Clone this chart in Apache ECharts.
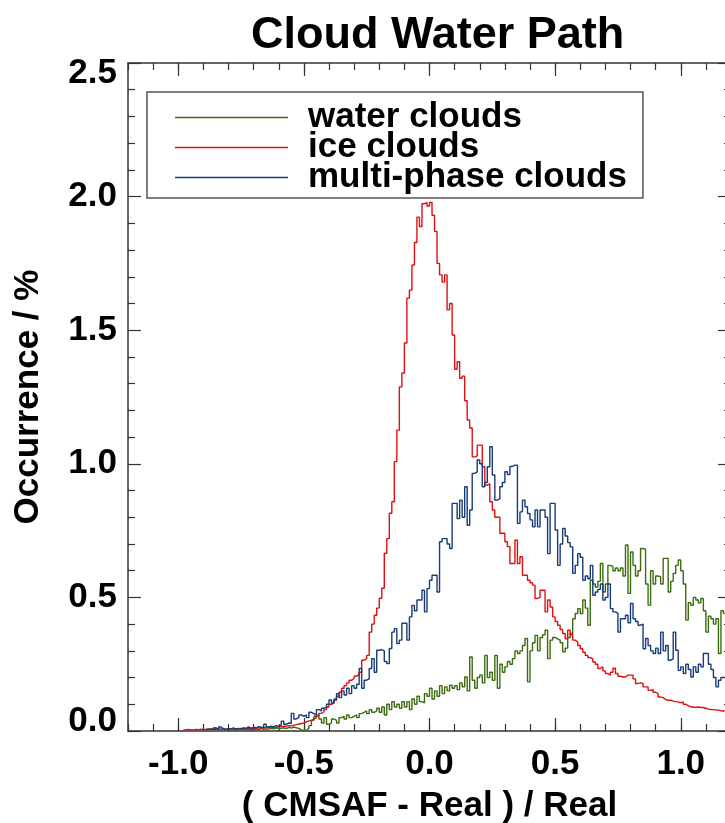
<!DOCTYPE html>
<html>
<head>
<meta charset="utf-8">
<script src="https://cdn.jsdelivr.net/npm/echarts@6/dist/echarts.min.js"></script>
<style>
  html, body { margin: 0; padding: 0; background: #fff; }
  #chart { width: 725px; height: 823px; }
</style>
</head>
<body>
<div id="chart"></div>
<script>
// histogram bins: 0.01 wide, first bin starts at -1.00
const binStart = -1.0
const binWidth = 0.01

// occurrence in % per bin (null = no data in that bin)
const waterClouds = [
  null, null, null, null, null, null, null, null, null, null,
  null, 0.005, 0.008, 0.004, 0.012, 0.006, 0.005, 0.009, 0.004, 0.007,
  0.005, 0.006, 0.004, 0.008, 0.005, 0.007, 0.004, 0.006, 0.005, 0.008,
  0.006, 0.005, 0.009, 0.006, 0.008, 0.007, 0.010, 0.008, 0.012, 0.009,
  0.010, 0.012, 0.009, 0.014, 0.011, 0.015, 0.012, 0.010, 0.004, 0.002,
  0.003, 0.010, 0.020, 0.040, 0.055, 0.060, 0.045, 0.030, 0.050, 0.025,
  0.030, 0.045, 0.040, 0.030, 0.050, 0.055, 0.045, 0.060, 0.050, 0.055,
  0.060, 0.050, 0.065, 0.070, 0.075, 0.065, 0.080, 0.070, 0.075, 0.085,
  0.070, 0.090, 0.060, 0.100, 0.080, 0.110, 0.090, 0.100, 0.085, 0.110,
  0.090, 0.110, 0.080, 0.120, 0.100, 0.130, 0.110, 0.105, 0.140, 0.130,
  0.160, 0.120, 0.150, 0.130, 0.170, 0.140, 0.165, 0.150, 0.171, 0.160,
  0.170, 0.155, 0.180, 0.165, 0.202, 0.150, 0.277, 0.190, 0.160, 0.200,
  0.210, 0.180, 0.283, 0.200, 0.220, 0.190, 0.283, 0.160, 0.250, 0.220,
  0.240, 0.260, 0.250, 0.271, 0.300, 0.290, 0.300, 0.320, 0.346, 0.184,
  0.300, 0.330, 0.358, 0.300, 0.350, 0.360, 0.377, 0.271, 0.340, 0.350,
  0.345, 0.340, 0.330, 0.296, 0.310, 0.350, 0.365, 0.420, 0.440, 0.458,
  0.440, 0.490, 0.460, 0.396, 0.564, 0.550, 0.539, 0.560, 0.627, 0.520,
  0.550, 0.620, 0.615, 0.600, 0.610, 0.600, 0.610, 0.580, 0.696, 0.515,
  0.670, 0.620, 0.580, 0.600, 0.683, 0.680, 0.550, 0.471, 0.600, 0.550,
  0.580, 0.577, 0.550, 0.646, 0.646, 0.520, 0.560, 0.590, 0.620, 0.640,
  0.600, 0.550, 0.415, 0.480, 0.470, 0.500, 0.490, 0.480, 0.496, 0.450,
  0.370, 0.430, 0.420, 0.400, 0.420, 0.290, 0.450, 0.440
]

const iceClouds = [
  null, null, 0.004, 0.006, 0.005, 0.004, 0.006, 0.005, 0.007, 0.006,
  0.006, 0.008, 0.005, 0.007, 0.006, 0.008, 0.007, 0.009, 0.006, 0.008,
  0.008, 0.006, 0.009, 0.007, 0.010, 0.008, 0.009, 0.011, 0.009, 0.012,
  0.010, 0.012, 0.011, 0.013, 0.012, 0.014, 0.013, 0.015, 0.014, 0.016,
  0.016, 0.018, 0.017, 0.020, 0.019, 0.022, 0.024, 0.026, 0.028, 0.030,
  0.034, 0.038, 0.040, 0.045, 0.050, 0.058, 0.066, 0.072, 0.080, 0.090,
  0.100, 0.105, 0.115, 0.130, 0.145, 0.160, 0.170, 0.180, 0.190, 0.197,
  0.205, 0.212, 0.220, 0.265, 0.272, 0.283, 0.370, 0.400, 0.433, 0.460,
  0.497, 0.534, 0.665, 0.720, 0.815, 0.858, 1.008, 1.126, 1.288, 1.340,
  1.452, 1.620, 1.650, 1.744, 1.828, 1.923, 1.888, 1.973, 1.978, 1.965,
  1.978, 1.930, 1.870, 1.750, 1.707, 1.680, 1.707, 1.576, 1.600, 1.482,
  1.354, 1.382, 1.320, 1.328, 1.236, 1.164, 1.134, 1.026, 1.030, 1.070,
  1.070, 0.989, 0.920, 0.925, 0.858, 0.827, 0.800, 0.800, 0.740, 0.740,
  0.708, 0.690, 0.627, 0.627, 0.714, 0.627, 0.652, 0.583, 0.583, 0.564,
  0.555, 0.546, 0.496, 0.500, 0.527, 0.527, 0.446, 0.490, 0.464, 0.427,
  0.410, 0.396, 0.380, 0.365, 0.345, 0.377, 0.360, 0.340, 0.333, 0.320,
  0.308, 0.295, 0.283, 0.275, 0.270, 0.258, 0.250, 0.234, 0.240, 0.225,
  0.215, 0.209, 0.220, 0.235, 0.215, 0.205, 0.202, 0.202, 0.209, 0.209,
  0.209, 0.195, 0.178, 0.180, 0.178, 0.165, 0.165, 0.152, 0.155, 0.145,
  0.140, 0.127, 0.125, 0.118, 0.115, 0.115, 0.112, 0.110, 0.109, 0.105,
  0.109, 0.100, 0.095, 0.090, 0.090, 0.088, 0.090, 0.088, 0.088, 0.085,
  0.082, 0.080, 0.080, 0.078, 0.078, 0.076, 0.075, 0.075
]

const multiPhaseClouds = [
  null, null, null, null, null, null, null, null, null, null,
  null, 0.006, 0.008, 0.005, 0.010, 0.007, 0.015, 0.008, 0.006, 0.010,
  0.008, 0.012, 0.007, 0.010, 0.009, 0.012, 0.010, 0.015, 0.011, 0.013,
  0.012, 0.016, 0.014, 0.012, 0.025, 0.015, 0.018, 0.016, 0.020, 0.018,
  0.022, 0.037, 0.025, 0.030, 0.028, 0.066, 0.045, 0.050, 0.060, 0.055,
  0.060, 0.050, 0.070, 0.065, 0.060, 0.080, 0.075, 0.085, 0.090, 0.100,
  0.116, 0.105, 0.120, 0.140, 0.125, 0.150, 0.135, 0.160, 0.140, 0.170,
  0.160, 0.175, 0.234, 0.160, 0.190, 0.195, 0.234, 0.271, 0.220, 0.302,
  0.305, 0.300, 0.260, 0.252, 0.309, 0.370, 0.383, 0.327, 0.340, 0.403,
  0.403, 0.340, 0.427, 0.470, 0.450, 0.490, 0.490, 0.527, 0.446, 0.533,
  0.564, 0.583, 0.583, 0.520, 0.708, 0.720, 0.720, 0.700, 0.683, 0.852,
  0.852, 0.795, 0.864, 0.800, 0.914, 0.770, 0.827, 0.964, 0.970, 1.014,
  1.000, 0.914, 0.930, 0.989, 1.064, 0.958, 0.864, 0.870, 0.914, 0.930,
  0.970, 0.960, 0.990, 0.995, 0.995, 0.777, 0.820, 0.864, 0.839, 0.814,
  0.790, 0.764, 0.827, 0.764, 0.827, 0.827, 0.800, 0.664, 0.852, 0.852,
  0.752, 0.620, 0.700, 0.758, 0.730, 0.705, 0.689, 0.590, 0.620, 0.664,
  0.650, 0.564, 0.580, 0.570, 0.620, 0.508, 0.520, 0.530, 0.550, 0.490,
  0.500, 0.550, 0.458, 0.446, 0.440, 0.370, 0.420, 0.420, 0.433, 0.405,
  0.477, 0.420, 0.410, 0.396, 0.400, 0.308, 0.346, 0.320, 0.300, 0.290,
  0.310, 0.290, 0.370, 0.300, 0.320, 0.265, 0.270, 0.370, 0.302, 0.227,
  0.240, 0.215, 0.250, 0.230, 0.202, 0.240, 0.220, 0.250, 0.240, 0.290,
  0.290, 0.250, 0.230, 0.200, 0.165, 0.190, 0.200, 0.200
]

const seriesNames = ['water clouds', 'ice clouds', 'multi-phase clouds']
const seriesColors = ['#3c6c10', '#e01010', '#173c7a']
const xMajorTicks = [-1.0, -0.5, 0.0, 0.5, 1.0]

const font = 'Liberation Sans, Arial, Helvetica, sans-serif'
const axisColor = '#333'
const textBold = { color: '#000', fontSize: 35, fontWeight: 'bold', fontFamily: font }

// bin centres -> [x, y] pairs
const toPairs = vals => vals.map((v, i) => [+(binStart + (i + 0.5) * binWidth).toFixed(3), v])

const lineStyle = { color: axisColor, width: 1.5 }
const tickStyle = { color: axisColor, width: 1.2 }

const xBase = { type: 'value', min: -1.2, max: 1.2, gridIndex: 0, splitLine: { show: false } }
const yBase = { type: 'value', min: 0, max: 2.5, interval: 0.5, gridIndex: 0, splitLine: { show: false } }

const chart = echarts.init(document.getElementById('chart'))

const option = {
  animation: false,
  backgroundColor: '#fff',
  title: {
    text: 'Cloud Water Path',
    left: 246,
    top: 8,
    textStyle: { color: '#000', fontSize: 45, fontWeight: 'bold', fontFamily: font }
  },
  legend: {
    orient: 'vertical',
    left: 147,
    top: 92,
    padding: [8, 16, 3, 28],
    itemGap: -5,
    itemWidth: 113,
    itemHeight: 1.5,
    icon: 'rect',
    selectedMode: false,
    borderColor: '#555',
    borderWidth: 1.5,
    backgroundColor: '#fff',
    textStyle: { ...textBold, lineHeight: 30, padding: [0, 0, 0, 15] },
    data: seriesNames
  },
  grid: {
    left: 128,
    right: -6,
    top: 63,
    bottom: 92,
    containLabel: false,
    outerBoundsMode: 'none'
  },
  xAxis: [
    {
      ...xBase,
      position: 'bottom',
      interval: 0.1,
      axisLine: { show: true, onZero: false, lineStyle },
      axisTick: { show: true, inside: true, length: 7, lineStyle: tickStyle },
      axisLabel: { show: false }
    },
    {
      ...xBase,
      position: 'bottom',
      axisLine: { show: false, onZero: false },
      axisTick: { show: true, inside: true, length: 13, customValues: xMajorTicks, lineStyle: tickStyle },
      axisLabel: { ...textBold, customValues: xMajorTicks, margin: 16, formatter: v => v.toFixed(1) },
      name: '( CMSAF - Real ) / Real',
      nameLocation: 'middle',
      nameGap: 58,
      nameTextStyle: textBold
    },
    {
      ...xBase,
      position: 'top',
      interval: 0.1,
      axisLine: { show: true, onZero: false, lineStyle },
      axisTick: { show: true, inside: true, length: 7, lineStyle: tickStyle },
      axisLabel: { show: false }
    },
    {
      ...xBase,
      position: 'top',
      axisLine: { show: false, onZero: false },
      axisTick: { show: true, inside: true, length: 13, customValues: xMajorTicks, lineStyle: tickStyle },
      axisLabel: { show: false }
    }
  ],
  yAxis: [
    {
      ...yBase,
      position: 'left',
      axisLine: { show: true, onZero: false, lineStyle },
      axisTick: { show: true, inside: true, length: 13, lineStyle: tickStyle },
      minorTick: { show: true, splitNumber: 5, length: 7, lineStyle: tickStyle },
      axisLabel: {
        ...textBold,
        margin: 11,
        lineHeight: 20,
        verticalAlignMinLabel: 'bottom',
        verticalAlignMaxLabel: 'top',
        formatter: v => v.toFixed(1)
      },
      name: 'Occurrence / %',
      nameLocation: 'middle',
      nameRotate: 90,
      nameGap: 82,
      nameTextStyle: textBold
    },
    {
      ...yBase,
      position: 'right',
      axisLine: { show: true, onZero: false, lineStyle },
      axisTick: { show: true, inside: true, length: 13, lineStyle: tickStyle },
      minorTick: { show: true, splitNumber: 5, length: 7, lineStyle: tickStyle },
      axisLabel: { show: false }
    }
  ],
  series: [waterClouds, iceClouds, multiPhaseClouds].map((vals, k) => ({
    name: seriesNames[k],
    type: 'line',
    step: 'middle',
    xAxisIndex: 0,
    yAxisIndex: 0,
    data: toPairs(vals),
    symbol: 'none',
    showSymbol: false,
    connectNulls: false,
    lineStyle: { color: seriesColors[k], width: 1.4 },
    itemStyle: { color: seriesColors[k] }
  }))
}

chart.setOption(option)
</script>
</body>
</html>
